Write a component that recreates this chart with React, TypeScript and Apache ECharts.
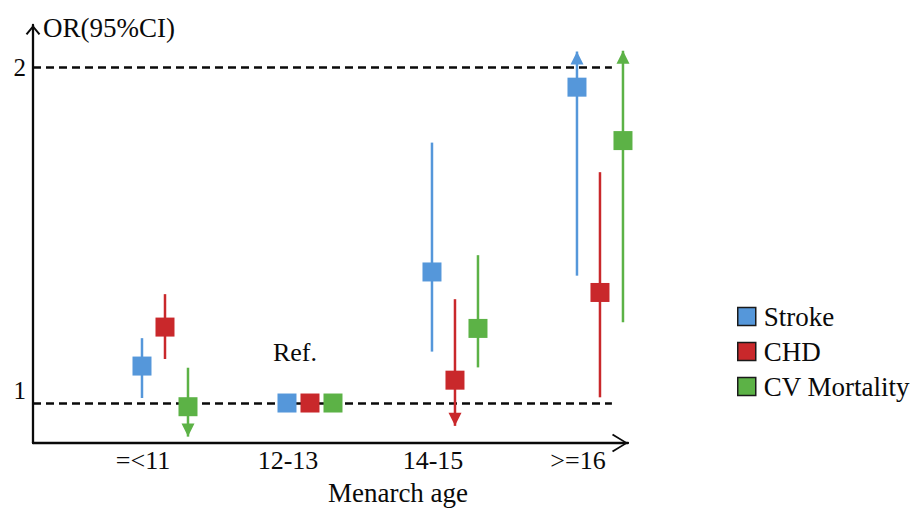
import React, { useEffect, useRef } from "react";
import * as echarts from "echarts";

const categories = ["=<11", "12-13", "14-15", ">=16"];

const strokeOR = [1.11, 1.0, 1.39, 1.94];
const strokeLow = [1.015, null, 1.153, 1.379];
const strokeHigh = [1.193, null, 1.775, 2.046];
const strokeArrow = ["", "", "", "up"];

const chdOR = [1.226, 1.0, 1.068, 1.329];
const chdLow = [1.131, null, 0.932, 1.017];
const chdHigh = [1.324, null, 1.309, 1.687];
const chdArrow = ["", "", "down", ""];

const cvOR = [0.989, 1.0, 1.222, 1.781];
const cvLow = [0.9, null, 1.106, 1.24];
const cvHigh = [1.105, null, 1.44, 2.048];
const cvArrow = ["down", "", "", "up"];

const yTickValues = [1, 2];
const refLines = [1, 2];

const FONT = "'Liberation Serif', 'Times New Roman', serif";
const COLORS = { stroke: "#5597DA", chd: "#C9282B", cv: "#5CB246" };
const INK = "#0a0a0a";

const X_MIN = -0.7586;
const X_MAX = 3.345;
const X_DASH_END = 3.234;

function buildData(or: number[], lo: (number | null)[], hi: (number | null)[], arrow: string[]) {
  return or.map((v, i) => [
    i,
    v,
    lo[i] == null ? v : lo[i],
    hi[i] == null ? v : hi[i],
    arrow[i] === "up" ? 1 : arrow[i] === "down" ? -1 : 0,
  ]);
}

function makeRenderItem(offsetPx: number) {
  return (params: any, api: any) => {
    const gx = api.value(0);
    const v = api.value(1);
    const lo = api.value(2);
    const hi = api.value(3);
    const arrow = api.value(4);
    const c = api.coord([gx, v]);
    const x = c[0] + offsetPx;
    const color = api.visual("color");
    const children: any[] = [];
    if (lo !== hi) {
      const yLo = api.coord([gx, lo])[1];
      const yHi = api.coord([gx, hi])[1];
      children.push({
        type: "line",
        shape: { x1: x, y1: yLo, x2: x, y2: yHi },
        style: { stroke: color, lineWidth: 2.5 },
      });
      if (arrow === 1) {
        children.push({
          type: "polygon",
          shape: { points: [[x, yHi], [x - 6.5, yHi + 13], [x + 6.5, yHi + 13]] },
          style: { fill: color },
        });
      } else if (arrow === -1) {
        children.push({
          type: "polygon",
          shape: { points: [[x, yLo], [x - 6.5, yLo - 13], [x + 6.5, yLo - 13]] },
          style: { fill: color },
        });
      }
    }
    children.push({
      type: "rect",
      shape: { x: x - 9.5, y: c[1] - 9.5, width: 19, height: 19 },
      style: { fill: color },
    });
    return { type: "group", children };
  };
}

const xArrow = "path://M0,16 L10,0 L20,16 L18.3,17.1 L10,3.2 L1.7,17.1 Z";
const yArrow = "path://M0,9 L7.5,0 L15,9 L13.4,10.3 L7.5,3.2 L1.6,10.3 Z";

export default function App() {
  const ref = useRef<HTMLDivElement>(null);
  useEffect(() => {
    if (!ref.current) return;
    const chart = echarts.init(ref.current, null, { renderer: "svg" });
    chart.setOption({
      animation: false,
      backgroundColor: "#ffffff",
      textStyle: { fontFamily: FONT },
      grid: { left: 33, right: 284, top: 25, bottom: 65, containLabel: false, outerBoundsMode: "none" },
      legend: {
        orient: "vertical",
        left: 737,
        top: 303,
        padding: 0,
        itemWidth: 18,
        itemHeight: 18,
        itemGap: 8,
        icon: "rect",
        itemStyle: { borderColor: "#1a1a1a", borderWidth: 1.5 },
        textStyle: { fontFamily: FONT, fontSize: 27, color: INK, padding: [0, 0, 0, 3] },
        data: ["Stroke", "CHD", "CV Mortality"],
      },
      xAxis: {
        type: "value",
        min: X_MIN,
        max: X_MAX,
        name: "Menarch age",
        nameLocation: "middle",
        nameGap: 50,
        nameTextStyle: { fontFamily: FONT, fontSize: 27, color: INK, verticalAlign: "middle", padding: [0, 0, 0, 135] },
        axisLine: {
          show: true,
          onZero: false,
          lineStyle: { color: INK, width: 2.3 },
          symbol: ["none", xArrow],
          symbolSize: [20, 16],
          symbolOffset: [0, -8],
        },
        axisTick: { show: false },
        splitLine: { show: false },
        axisLabel: {
          customValues: [0, 1, 2, 3],
          margin: 4,
          fontFamily: FONT,
          fontSize: 26,
          color: INK,
          formatter: (v: number) => categories[Math.round(v)] ?? "",
        },
      },
      yAxis: {
        type: "value",
        min: 0.881,
        max: 2.125,
        name: "OR(95%CI)",
        nameLocation: "end",
        nameGap: -3,
        nameTextStyle: { fontFamily: FONT, fontSize: 27, color: INK, align: "left", verticalAlign: "middle", padding: [0, 0, 0, 10] },
        axisLine: {
          show: true,
          onZero: false,
          lineStyle: { color: INK, width: 2.3 },
          symbol: ["none", yArrow],
          symbolSize: [15, 10],
          symbolOffset: [0, -5],
        },
        axisTick: { show: false },
        splitLine: { show: false },
        axisLabel: {
          customValues: yTickValues,
          margin: 7,
          fontFamily: FONT,
          fontSize: 25,
          color: INK,
          formatter: (v: number) => (Math.abs(v - 1) < 1e-6 ? "{up|1}" : "{n|" + Math.round(v) + "}"),
          rich: {
            up: { fontFamily: FONT, fontSize: 25, color: INK, padding: [0, 0, 26, 0] },
            n: { fontFamily: FONT, fontSize: 25, color: INK },
          },
        },
      },
      series: [
        {
          name: "refs",
          type: "line",
          data: [],
          silent: true,
          z: 1,
          markLine: {
            silent: true,
            symbol: ["none", "none"],
            label: { show: false },
            lineStyle: { color: INK, width: 2.5, type: [8, 5] },
            data: refLines.map((r) => [{ coord: [X_MIN, r] }, { coord: [X_DASH_END, r] }]),
          },
          markPoint: {
            symbol: "rect",
            symbolSize: 0,
            label: {
              show: true,
              formatter: "Ref.",
              position: "inside",
              offset: [7, -51],
              fontFamily: FONT,
              fontSize: 26,
              color: INK,
            },
            data: [{ coord: [1, 1] }],
          },
        },
        {
          name: "Stroke",
          type: "custom",
          z: 5,
          itemStyle: { color: COLORS.stroke },
          renderItem: makeRenderItem(-1),
          data: buildData(strokeOR, strokeLow, strokeHigh, strokeArrow),
        },
        {
          name: "CHD",
          type: "custom",
          z: 5,
          itemStyle: { color: COLORS.chd },
          renderItem: makeRenderItem(22),
          data: buildData(chdOR, chdLow, chdHigh, chdArrow),
        },
        {
          name: "CV Mortality",
          type: "custom",
          z: 5,
          itemStyle: { color: COLORS.cv },
          renderItem: makeRenderItem(45),
          data: buildData(cvOR, cvLow, cvHigh, cvArrow),
        },
      ],
    });
    return () => chart.dispose();
  }, []);
  return (
    <div
      ref={ref}
      style={{ position: "absolute", left: 0, top: 0, width: 912, height: 508, background: "#fff" }}
    />
  );
}
